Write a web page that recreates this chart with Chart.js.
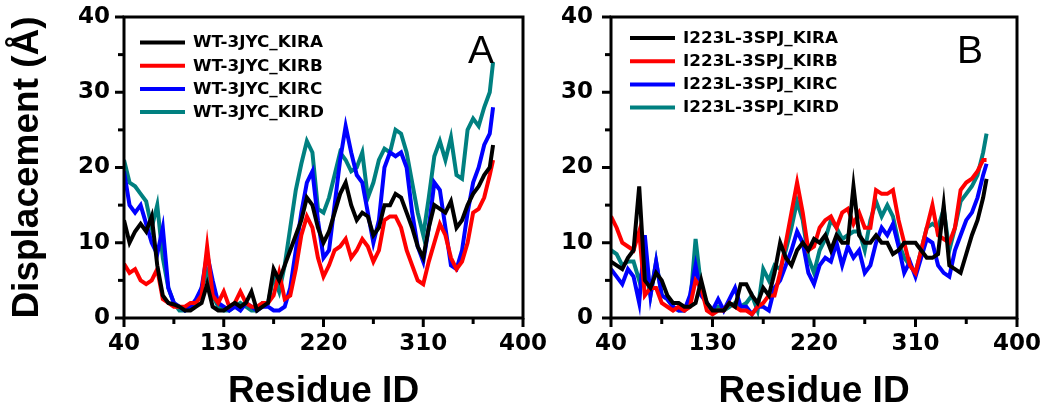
<!DOCTYPE html>
<html>
<head>
<meta charset="utf-8">
<script src="https://cdn.jsdelivr.net/npm/chart.js@4.4.0/dist/chart.umd.min.js"></script>
<style>
body { margin: 0; background: #fff; width: 1047px; height: 414px; overflow: hidden; position: relative; }
canvas { position: absolute; top: 0; }
#left { left: 0; }
#right { left: 530px; }
</style>
</head>
<body>
<canvas id="left" width="560" height="414"></canvas>
<canvas id="right" width="517" height="414"></canvas>
<script>
// residue numbers (x), shared by all series
const residues = [40,45,50,55,60,65,70,75,80,85,90,95,100,105,110,115,120,125,130,135,
  140,145,150,155,160,165,170,175,180,185,190,195,200,205,210,215,220,225,230,235,
  240,245,250,255,260,265,270,275,280,285,290,295,300,305,310,315,320,325,330,335,
  340,345,350,355,360,365,370,373];

const xTicks = [40, 130, 220, 310, 400];
const yTicks = [0, 10, 20, 30, 40];

// panel A
const wtLabels = ['WT-3JYC_KIRA', 'WT-3JYC_KIRB', 'WT-3JYC_KIRC', 'WT-3JYC_KIRD'];
const wtA = [13,10,11.5,12.5,11.5,13.5,7,3,2,1.8, 1.5,1,1,1.5,2,4.5,1.5,1,1,1.5,
  2,1.5,2,3.5,1,1.5,2,6.5,5,7, 9,11,13,16,15,12,10,11.5,14,16.5,
  18,15,13,14,13.5,11,12,15,15,16.5, 16,14,12,9.5,8,12,15,14.5,14,15.5,
  12,13,15,16.5,17.5,19,20,23];
const wtB = [7.2,6,6.5,5,4.5,5,6.5,2.5,2,1.5, 1.5,1.5,2,2,3,9.5,3,2,3.5,1.5,
  2,3.5,2,1.5,1.5,2,2,3,6,2.5, 3,6.5,11,13.5,12,8,5.5,7,9,9.5,
  10.5,8,9,10.5,9.5,7.5,9,13,13.5,13.5, 12,9,7,5,4.5,7.5,10,12.5,11,8,
  6.5,7.5,10,14,14.5,16,19,21];
const wtC = [19.5,15,14,15,12.5,10,8.5,12,4,2, 1.5,1,1.5,2.5,4,8.5,5,2,1.5,1,
  1.5,1,2,1.5,1,1.5,1.5,1,1,1.5, 4,9,14,18,19.5,13,8,9,15,21,
  25.5,22,19,18,14,10,13,20,22,21.5, 22,20,14,9.5,7.5,12,18,17,12,7,
  6.5,9,14,18,20,23,24.5,28];
const wtD = [21,18,17.5,16.5,15.5,12,15,8,4,2, 1,1,1.5,2,4,6,3,1.5,1,1,
  1.5,2,1.5,1,1,2,2,5.5,3.5,7, 12,17,20.5,23.5,22,14.5,14,16,19,22,
  21,19.5,20,22,16,18,21,22.5,22,25, 24.5,22,18,14,11,16,21.5,23.5,21,24,
  19,18.5,25,26.5,25.5,28,30,34];

// panel B
const mutLabels = ['I223L-3SPJ_KIRA', 'I223L-3SPJ_KIRB', 'I223L-3SPJ_KIRC', 'I223L-3SPJ_KIRD'];
const mutA = [7.5,7,6.5,8,9,17.5,5,4,6,5, 3,2,2,1.5,1.5,2,5,2,1,1,
  1,2,1.5,4.5,4.5,3,2,4,3,6, 10,8,7,9,10,9,10.5,10,11,9,
  11,10,10,17.5,11,10,10,11,10,10, 8.5,9,10,10,10,9,8,8,8.5,15,
  7,6.5,6,8.5,11,13,16,18.5];
const mutB = [13.5,12,10,9.5,9,11.5,3,4,4,2, 1.5,1,1.5,1,1.5,5,4,1,0.5,1,
  1,2,1.5,1,1,0.5,1.5,2,3,3, 6,10,14,18,14,9,9.5,12,13,13.5,
  12,14,14.5,12.5,14,12,12,17,16.5,16.5, 17,13,10,7,6,9,12,15,11,10.5,
  10,12,17,18,18.5,19.5,21,21];
const mutC = [6.5,5.5,4.5,6.5,5.5,2,11,3,7.5,3, 2.5,1.5,1,1,3,7,3,2,1,2.5,
  1,2.5,4,1.5,1.5,0.5,1.5,1.5,1,4, 5,7,9,11.5,10,6,4.5,7,8,7.5,
  10,7,9.5,8,9,6,7,10,12,11, 12.5,9.5,6,7.5,5.5,8,10.5,10,7,6,
  5.5,9,11,13,14,16,19,20.5];
const mutD = [9,8.5,7,7.5,7.5,5,7,3,7.5,3, 2.5,1.5,1,1,1.5,10.5,4,2,1,1.5,
  1,1.5,2,1.5,2,3,1,6.5,5,7, 6.5,9,12,15.5,13,8,6,9,10.5,13,
  12,10.5,11,11.5,11.5,9,13,15.5,13.5,15, 13.5,10,8,7,6,9,12,12.5,12,14.5,
  9,12,15.5,16.5,17.5,19,22,24.5];

const colors = ['#000000', '#ff0000', '#0000ff', '#008080'];

// frame, outward ticks, legend and panel letter
const framePlugin = {
  id: 'frame',
  afterDatasetsDraw(chart, args, opts) {
    const ctx = chart.ctx;
    const a = chart.chartArea;
    const xs = chart.scales.x, ys = chart.scales.y;
    ctx.save();
    ctx.strokeStyle = '#000';
    ctx.lineWidth = 3;
    ctx.strokeRect(a.left, a.top, a.right - a.left, a.bottom - a.top);
    xs.ticks.forEach(t => {
      const px = xs.getPixelForValue(t.value);
      const len = xTicks.includes(t.value) ? 9 : 6;
      ctx.beginPath(); ctx.moveTo(px, a.bottom); ctx.lineTo(px, a.bottom + len); ctx.stroke();
    });
    ys.ticks.forEach(t => {
      const py = ys.getPixelForValue(t.value);
      const len = yTicks.includes(t.value) ? 9 : 6;
      ctx.beginPath(); ctx.moveTo(a.left, py); ctx.lineTo(a.left - len, py); ctx.stroke();
    });

    // legend
    chart.data.datasets.forEach((ds, i) => {
      const y = opts.legendTop + i * 23.2;
      ctx.strokeStyle = ds.borderColor;
      ctx.lineWidth = 4;
      ctx.beginPath();
      ctx.moveTo(a.left + opts.lineX, y);
      ctx.lineTo(a.left + opts.lineX + 45, y);
      ctx.stroke();
      ctx.save();
      ctx.translate(a.left + opts.textX, y);
      ctx.scale(1.12, 1);
      ctx.fillStyle = '#000';
      ctx.font = 'bold 15px "DejaVu Sans"';
      ctx.textBaseline = 'middle';
      ctx.fillText(ds.label, 0, 1);
      ctx.restore();
    });

    ctx.fillStyle = '#000';
    ctx.font = '39px "Liberation Sans"';
    ctx.textAlign = 'center';
    ctx.textBaseline = 'alphabetic';
    ctx.fillText(opts.letter, a.right + opts.letterDX, 63);
    ctx.restore();
  }
};

function makeData(labels, series) {
  return {
    datasets: series.map((vals, i) => ({
      label: labels[i],
      data: residues.map((r, j) => ({ x: r, y: vals[j] })),
      borderColor: colors[i],
      borderWidth: 4,
      pointRadius: 0,
      tension: 0,
      fill: false
    }))
  };
}

function makeOptions(p) {
  return {
    responsive: false,
    animation: false,
    layout: { padding: { top: 17, right: p.padRight, left: 0, bottom: 0 } },
    scales: {
      x: {
        type: 'linear', min: 40, max: 400,
        afterFit: s => { s.height = 96; s.paddingLeft = 0; s.paddingRight = 0; },
        grid: { display: false, drawTicks: false },
        border: { display: false },
        ticks: {
          stepSize: 45, autoSkip: false, maxRotation: 0, padding: 12, color: '#000',
          font: { family: 'DejaVu Sans', weight: 'bold', size: 23 },
          callback: v => xTicks.includes(v) ? v : ''
        },
        title: {
          display: true, text: 'Residue ID', color: '#000',
          font: { family: 'Liberation Sans', weight: 'bold', size: 37 },
          padding: { top: 0, bottom: 0 }
        }
      },
      y: {
        type: 'linear', min: 0, max: 40,
        afterFit: s => { s.width = p.yWidth; s.paddingTop = 0; s.paddingBottom = 0; },
        grid: { display: false, drawTicks: false },
        border: { display: false },
        ticks: {
          stepSize: 5, autoSkip: false, padding: p.yPad, color: '#000',
          font: { family: 'DejaVu Sans', weight: 'bold', size: 23 },
          callback: v => yTicks.includes(v) ? v : ''
        },
        title: {
          display: p.yTitle, text: 'Displacement (Å)', color: '#000',
          font: { family: 'Liberation Sans', weight: 'bold', size: 37 },
          padding: { top: 6, bottom: 0 }
        }
      }
    },
    plugins: {
      legend: { display: false },
      tooltip: { enabled: false },
      frame: p.frame
    }
  };
}

new Chart(document.getElementById('left'), {
  type: 'line',
  data: makeData(wtLabels, [wtA, wtB, wtC, wtD]),
  options: makeOptions({ padRight: 37, yWidth: 124, yPad: 14, yTitle: true,
    frame: { legendTop: 42.5, lineX: 16, textX: 69, letter: 'A', letterDX: -42 } }),
  plugins: [framePlugin]
});

new Chart(document.getElementById('right'), {
  type: 'line',
  data: makeData(mutLabels, [mutA, mutB, mutC, mutD]),
  options: makeOptions({ padRight: 30, yWidth: 81, yPad: 18, yTitle: false,
    frame: { legendTop: 38, lineX: 19, textX: 72, letter: 'B', letterDX: -47 } }),
  plugins: [framePlugin]
});
</script>
</body>
</html>
